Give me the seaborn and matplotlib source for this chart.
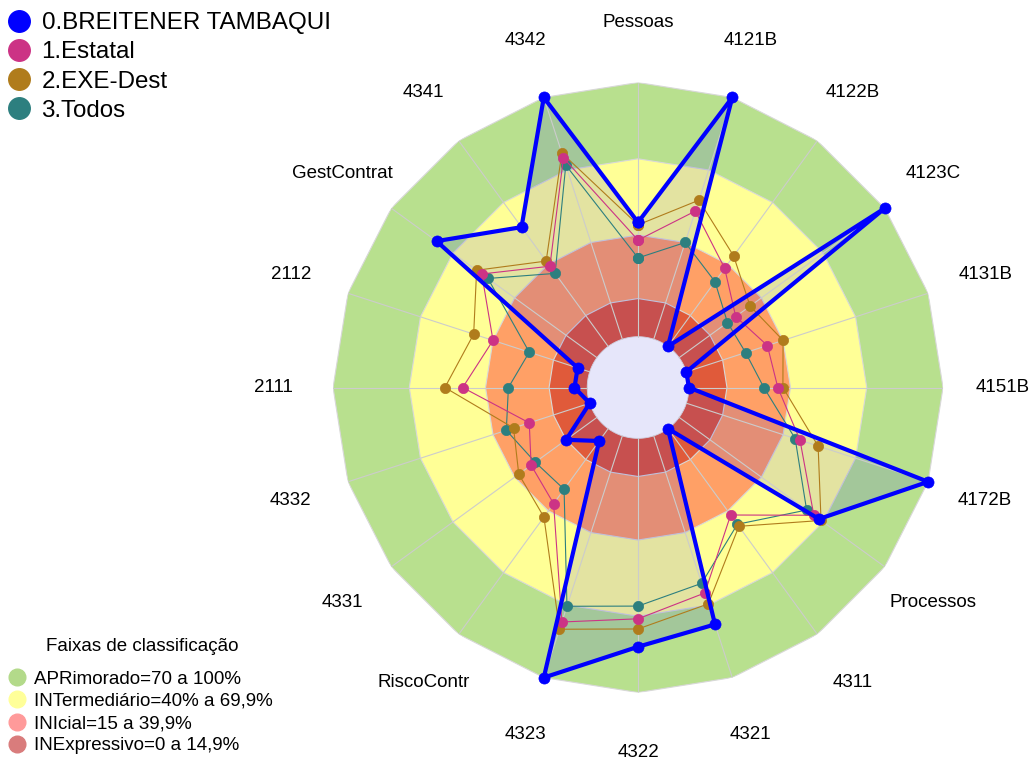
import numpy as np
import pandas as pd
import matplotlib
matplotlib.use("Agg")
import matplotlib.pyplot as plt
from matplotlib.lines import Line2D
import seaborn as sns

sns.set_theme(style="white")
plt.rcParams["font.family"] = ["Liberation Sans", "DejaVu Sans"]
plt.rcParams["text.color"] = "black"

categories = ["Pessoas", "4121B", "4122B", "4123C", "4131B", "4151B", "4172B",
              "Processos", "4311", "4321", "4322", "4323", "RiscoContr", "4331",
              "4332", "2111", "2112", "GestContrat", "4341", "4342"]

breitener = [45, 100, 0, 100, 0, 0, 100, 68, 0, 78, 82, 100, 6, 15, 0, 5, 5, 78, 58, 100]
estatal = [38, 53, 38, 27.5, 33.5, 35, 47, 65.5, 42, 65, 71, 77, 36.5, 32, 25, 49, 40, 56, 39, 75]
exe_dest = [44, 57.5, 44, 34.5, 40, 37, 54.5, 69, 47.5, 69.5, 75, 80, 43, 38, 31.5, 56, 48, 58.5, 41.5, 77]
todos = [31, 40, 31.5, 23.5, 24.5, 29.5, 45, 62, 46.5, 61, 66, 70.5, 29.5, 30, 34.5, 31, 25, 53, 35.5, 72]

series_names = ["0.BREITENER TAMBAQUI", "1.Estatal", "2.EXE-Dest", "3.Todos"]
series_colors = ["#0000ff", "#cc3385", "#b07c1c", "#2d7f7f"]

# faixas de classificação (limite superior, cor no gráfico)
band_limits = [100, 70, 40, 15]
band_colors = ["#b8e08e", "#ffff96", "#ffa066", "#e05a3a"]
band_labels = ["APRimorado=70 a 100%", "INTermediário=40% a 69,9%",
               "INIcial=15 a 39,9%", "INExpressivo=0 a 14,9%"]
band_legend_colors = ["#b3da8a", "#ffff99", "#ff9a9a", "#d97c7c"]

n = len(categories)
theta = np.linspace(0, 2 * np.pi, n, endpoint=False)
theta_c = np.append(theta, theta[0])


def close(vals):
    return np.append(np.asarray(vals, dtype=float), vals[0])


fig = plt.figure(figsize=(10.31, 7.6), dpi=100)
ax = fig.add_axes([0.3230, 0.0888, 0.5917, 0.8026], projection="polar")
ax.set_theta_zero_location("N")
ax.set_theta_direction(-1)
ax.set_ylim(-20, 100)
ax.set_axis_off()

# faixas de fundo
for lim, col in zip(band_limits, band_colors):
    ax.fill(theta_c, np.full(n + 1, lim), color=col, ec="#d8d8d8", lw=0.8, zorder=1)

# área preenchida da série principal
ax.fill(theta_c, close(breitener), color="#0000ff", alpha=0.11, lw=0, zorder=2)

# miolo
tt = np.linspace(0, 2 * np.pi, 361)
ax.fill(tt, np.zeros_like(tt), color="#e6e6fa", ec="#cfcfdf", lw=0.6, zorder=3)

# raios
for t in theta:
    ax.plot([t, t], [0, 100], color="#cccccc", lw=0.8, zorder=3)

# séries
df = pd.DataFrame({
    "theta": np.tile(theta_c, 4),
    "valor": np.concatenate([close(breitener), close(estatal), close(exe_dest), close(todos)]),
    "serie": np.repeat(series_names, n + 1),
})
draw_order = [3, 2, 1, 0]
for i in draw_order:
    sub = df[df["serie"] == series_names[i]]
    main = i == 0
    sns.lineplot(data=sub, x="theta", y="valor", ax=ax, sort=False, estimator=None,
                 color=series_colors[i], lw=3.0 if main else 0.8, marker="o",
                 markersize=8 if main else 7.4, markeredgecolor=series_colors[i],
                 markeredgewidth=0.5, legend=False, clip_on=False, zorder=4 + (3 - i))
ax.set_axis_off()

# rótulos das categorias
for t, lab in zip(theta, categories):
    ax.text(t, 123.6, lab, ha="center", va="center", fontsize=13.5, color="black")

# legenda das séries
h1 = [Line2D([], [], ls="", marker="o", ms=15.5, color=c) for c in series_colors]
fig.legend(h1, series_names, loc="upper left", bbox_to_anchor=(0.007, 0.984),
           frameon=False, fontsize=17.4, handlelength=1.0, handletextpad=0.42,
           labelspacing=0.3, borderpad=0, borderaxespad=0)

# legenda das faixas
fig.text(0.1377, 0.1487, "Faixas de classificação", ha="center", va="center", fontsize=13.5)
h2 = [Line2D([], [], ls="", marker="o", ms=12, color=c) for c in band_legend_colors]
fig.legend(h2, band_labels, loc="lower left", bbox_to_anchor=(0.0074, 0.0075),
           frameon=False, fontsize=13.5, handlelength=1.0, handletextpad=0.41,
           labelspacing=0.27, borderpad=0, borderaxespad=0)

fig.savefig("out.png", dpi=100)
